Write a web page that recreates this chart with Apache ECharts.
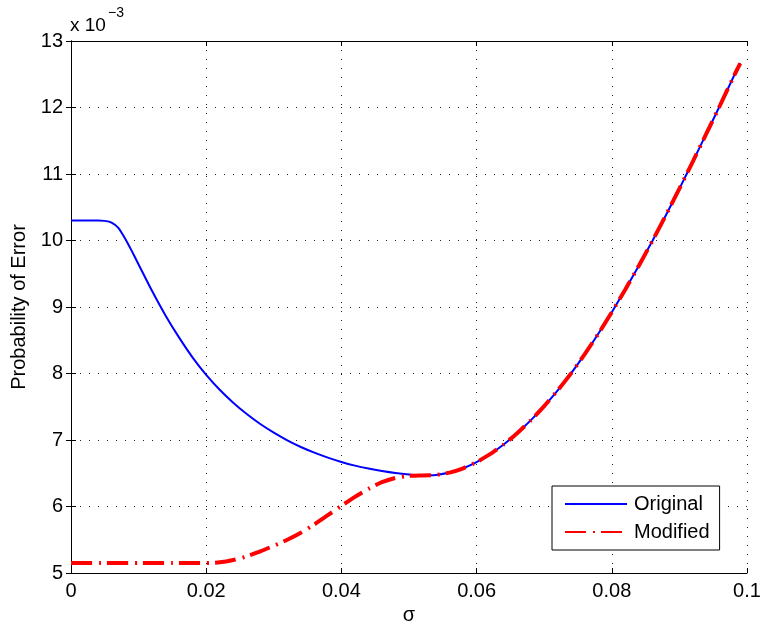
<!DOCTYPE html>
<html>
<head>
<meta charset="utf-8">
<script src="https://cdn.jsdelivr.net/npm/echarts@6/dist/echarts.min.js"></script>
<style>
  html, body { margin: 0; padding: 0; background: #fff; }
  #chart { width: 762px; height: 624px; }
</style>
</head>
<body>
<div id="chart"></div>
<script>
// Probability of error (in units of 1e-3) versus noise level sigma
const sigmaOriginal = [0, 0.002, 0.004, 0.005, 0.006, 0.007, 0.008, 0.009, 0.010,
  0.012, 0.014, 0.016, 0.018, 0.020, 0.022, 0.024, 0.026, 0.028, 0.030,
  0.032, 0.034, 0.036, 0.038, 0.040, 0.042, 0.044, 0.046, 0.048, 0.050,
  0.052, 0.054, 0.056, 0.058, 0.060, 0.062, 0.064, 0.066, 0.068, 0.070,
  0.072, 0.074, 0.076, 0.078, 0.080, 0.082, 0.084, 0.086, 0.088, 0.090,
  0.092, 0.094, 0.096, 0.098, 0.099];
const errorOriginal = [10.30, 10.30, 10.30, 10.295, 10.27, 10.19, 10.03, 9.84, 9.64,
  9.24, 8.87, 8.54, 8.24, 7.98, 7.755, 7.56, 7.39, 7.24, 7.11,
  6.995, 6.895, 6.81, 6.735, 6.67, 6.615, 6.57, 6.533, 6.503, 6.482,
  6.468, 6.475, 6.51, 6.575, 6.668, 6.787, 6.932, 7.102, 7.295, 7.51,
  7.747, 8.006, 8.291, 8.597, 8.922, 9.264, 9.621, 9.993, 10.38, 10.78,
  11.19, 11.61, 12.03, 12.46, 12.665];

const sigmaModified = [0, 0.005, 0.010, 0.015, 0.020, 0.022, 0.024, 0.026, 0.028, 0.030,
  0.032, 0.034, 0.036, 0.038, 0.040, 0.042, 0.044, 0.046, 0.048, 0.050,
  0.052, 0.054, 0.056, 0.058, 0.060, 0.062, 0.064, 0.066, 0.068, 0.070,
  0.072, 0.074, 0.076, 0.078, 0.080, 0.082, 0.084, 0.086, 0.088, 0.090,
  0.092, 0.094, 0.096, 0.098, 0.099];
const errorModified = [5.15, 5.15, 5.15, 5.15, 5.15, 5.16, 5.195, 5.25, 5.325, 5.41,
  5.50, 5.605, 5.73, 5.87, 6.01, 6.145, 6.265, 6.365, 6.43, 6.46,
  6.468, 6.475, 6.51, 6.575, 6.668, 6.787, 6.932, 7.102, 7.295, 7.51,
  7.747, 8.006, 8.291, 8.597, 8.922, 9.264, 9.621, 9.993, 10.38, 10.78,
  11.19, 11.61, 12.03, 12.46, 12.665];

const seriesNames = ['Original', 'Modified'];
const xTitle = 'σ';
const yTitle = 'Probability of Error';

const FONT = '"Liberation Sans", Arial, Helvetica, sans-serif';
const zip = (xs, ys) => xs.map((x, i) => [x, ys[i]]);

const chart = echarts.init(document.getElementById('chart'), null, { renderer: 'canvas' });

const gridLine = { show: true, lineStyle: { color: '#222', width: 1, type: [1, 8] } };
const frameLine = { show: true, lineStyle: { color: '#000', width: 1 } };
const innerTick = { show: true, inside: true, length: 5, lineStyle: { color: '#000', width: 1 } };

chart.setOption({
  animation: false,
  backgroundColor: '#fff',
  textStyle: { fontFamily: FONT },
  grid: { left: 71, right: 15, top: 41, bottom: 51, containLabel: false, outerBoundsMode: 'none' },
  graphic: [
    { type: 'text', left: 70, top: 16, style: { text: 'x 10', font: '19px ' + FONT, fill: '#000' } },
    { type: 'text', left: 108, top: 6, style: { text: '−3', font: '14px ' + FONT, fill: '#000' } }
  ],
  legend: {
    left: 552, top: 486,
    orient: 'vertical',
    backgroundColor: '#fff',
    borderColor: '#000', borderWidth: 1, borderRadius: 0,
    padding: [8, 10, 8, 12],
    itemWidth: 62, itemHeight: 14, itemGap: 8,
    itemStyle: { opacity: 0 },
    textStyle: { fontSize: 20, color: '#000', fontFamily: FONT, padding: [0, 0, 0, 2] },
    data: seriesNames
  },
  xAxis: [
    {
      type: 'value', position: 'bottom', min: 0, max: 0.1, interval: 0.02,
      name: xTitle, nameLocation: 'middle', nameGap: 30,
      nameTextStyle: { fontSize: 20, color: '#000', fontFamily: FONT },
      axisLine: frameLine, axisTick: innerTick, splitLine: gridLine,
      axisLabel: {
        fontSize: 20, color: '#000', margin: 8, fontFamily: FONT,
        formatter: v => (v === 0 ? '0' : String(+v.toFixed(2)))
      }
    },
    {
      type: 'value', position: 'top', min: 0, max: 0.1, interval: 0.02,
      axisLine: frameLine, axisTick: innerTick, splitLine: { show: false },
      axisLabel: { show: false }
    }
  ],
  yAxis: [
    {
      type: 'value', position: 'left', min: 5, max: 13, interval: 1,
      name: yTitle, nameLocation: 'middle', nameGap: 42, nameRotate: 90,
      nameTextStyle: { fontSize: 20, color: '#000', fontFamily: FONT },
      axisLine: frameLine, axisTick: innerTick, splitLine: gridLine,
      axisLabel: { fontSize: 20, color: '#000', margin: 8, fontFamily: FONT }
    },
    {
      type: 'value', position: 'right', min: 5, max: 13, interval: 1,
      axisLine: frameLine, axisTick: innerTick, splitLine: { show: false },
      axisLabel: { show: false }
    }
  ],
  series: [
    {
      name: seriesNames[0], type: 'line', xAxisIndex: 0, yAxisIndex: 0,
      data: zip(sigmaOriginal, errorOriginal),
      smooth: 0.2, symbol: 'none',
      lineStyle: { color: '#0000ff', width: 2 },
      itemStyle: { color: '#0000ff' },
      z: 2
    },
    {
      name: seriesNames[1], type: 'line', xAxisIndex: 0, yAxisIndex: 0,
      data: zip(sigmaModified, errorModified),
      smooth: 0.2, symbol: 'none',
      lineStyle: { color: '#ff0000', width: 4, type: [21, 7, 2, 6], cap: 'butt' },
      itemStyle: { color: '#ff0000' },
      z: 3
    }
  ]
});
</script>
</body>
</html>
